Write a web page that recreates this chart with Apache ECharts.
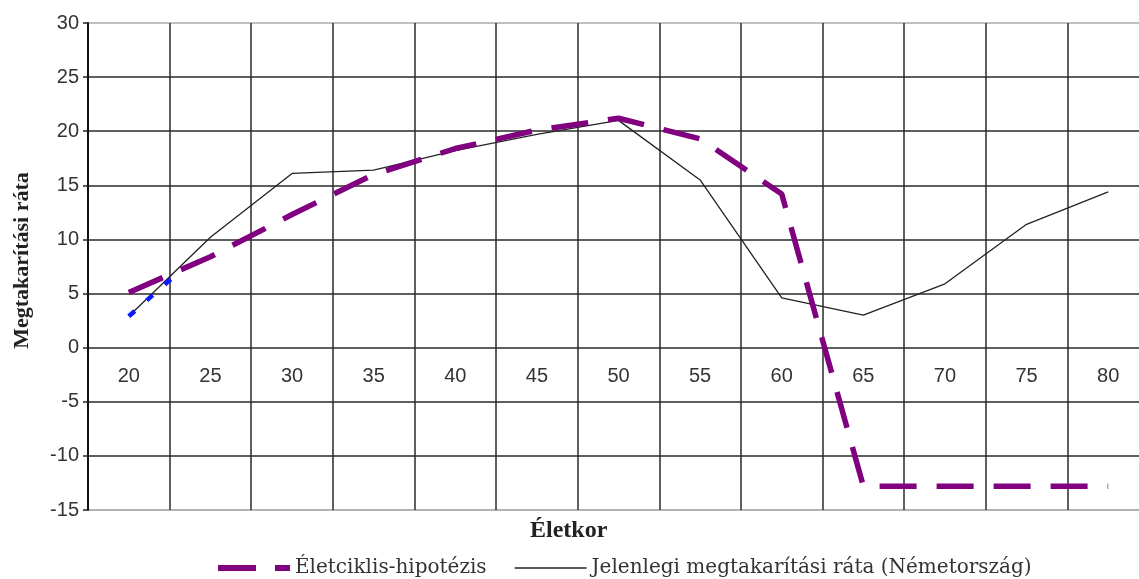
<!DOCTYPE html>
<html>
<head>
<meta charset="utf-8">
<script src="https://cdn.jsdelivr.net/npm/echarts@6/dist/echarts.min.js"></script>
<style>
html, body { margin: 0; padding: 0; background: #fff; overflow: hidden; }
#chart { width: 1150px; height: 579px; }
</style>
</head>
<body>
<div id="chart"></div>
<script>
// Életkor kategóriák
const ages = ['20', '25', '30', '35', '40', '45', '50', '55', '60', '65', '70', '75', '80'];
// Életciklis-hipotézis (szaggatott lila)
const lifeCycle = [5.1, 8.4, 12.3, 16.0, 18.4, 20.1, 21.2, 19.3, 14.2, -12.8, -12.8, -12.8, -12.8];
// Jelenlegi megtakarítási ráta (Németország)
const germany = [2.9, 10.2, 16.1, 16.4, 18.2, 19.7, 21.0, 15.5, 4.6, 3.0, 5.9, 11.4, 14.4];
// kék pontozott szakasz az elején
const blueAge = [20, 23.3];
const blueRate = [2.9, 7.3];

const serif = '"Liberation Serif", "DejaVu Serif", serif';
const sans = '"Liberation Sans", Arial, sans-serif';

let chartDom = document.getElementById('chart');
let myChart = echarts.init(chartDom);

let option = {
  animation: false,
  backgroundColor: '#fff',
  title: {
    text: 'Életkor',
    left: 525,
    top: 514,
    textStyle: { fontFamily: serif, fontWeight: 'bold', fontSize: 24, color: '#222' }
  },
  legend: {
    left: 213,
    top: 553,
    itemWidth: 72,
    itemHeight: 6,
    itemGap: 28,
    textStyle: { fontFamily: '"DejaVu Serif", serif', fontSize: 20, color: '#333' },
    data: [
      { name: 'Életciklis-hipotézis', icon: 'path://M0,0H38V6H0Z M57,0H72V6H57Z' },
      { name: 'Jelenlegi megtakarítási ráta (Németország)', icon: 'path://M0,0H72V1.3H0Z' }
    ]
  },
  grid: {
    left: 88,
    top: 23,
    width: 1061,
    height: 487
  },
  xAxis: [
    {
      type: 'category',
      data: ages,
      boundaryGap: true,
      position: 'bottom',
      // címkék a 0-s vonal alatt
      axisLine: { show: false, onZero: false },
      axisTick: { show: false },
      axisLabel: { margin: -144, fontFamily: sans, fontSize: 20, color: '#333' },
      splitLine: { show: true, interval: 0, lineStyle: { color: '#2a2a2a', width: 1.5 } }
    },
    {
      type: 'value',
      position: 'top',
      min: 17.5,
      max: 82.5,
      show: false
    }
  ],
  yAxis: {
    type: 'value',
    min: -15,
    max: 30,
    interval: 5,
    name: 'Megtakarítási ráta',
    nameLocation: 'middle',
    nameRotate: 90,
    nameGap: 55,
    nameTextStyle: { fontFamily: serif, fontWeight: 'bold', fontSize: 22, color: '#222', padding: [0, 0, 0, 12] },
    axisLine: { show: true, lineStyle: { color: '#111', width: 2 } },
    axisTick: { show: true, length: 5, lineStyle: { color: '#222', width: 1.5 } },
    axisLabel: { margin: 9, fontFamily: sans, fontSize: 20, color: '#333' },
    splitLine: {
      show: true,
      lineStyle: {
        color: ['#999', '#2a2a2a', '#2a2a2a', '#2a2a2a', '#2a2a2a', '#2a2a2a', '#2a2a2a', '#2a2a2a', '#2a2a2a', '#aaa'],
        width: 1.5
      }
    }
  },
  series: [
    {
      name: 'Jelenlegi megtakarítási ráta (Németország)',
      type: 'line',
      data: germany,
      symbol: 'none',
      lineStyle: { color: '#222', width: 1.3 },
      itemStyle: { color: '#222' },
      z: 3
    },
    {
      name: 'kek',
      type: 'line',
      xAxisIndex: 1,
      data: blueAge.map((a, i) => [a, blueRate[i]]),
      symbol: 'none',
      lineStyle: { color: '#0a1aff', width: 4.5, type: [8, 16] },
      z: 4
    },
    {
      name: 'Életciklis-hipotézis',
      type: 'line',
      data: lifeCycle,
      symbol: 'none',
      lineStyle: { color: '#800080', width: 5.5, type: [37, 20] },
      itemStyle: { color: '#800080' },
      z: 5
    }
  ]
};

myChart.setOption(option);
</script>
</body>
</html>
